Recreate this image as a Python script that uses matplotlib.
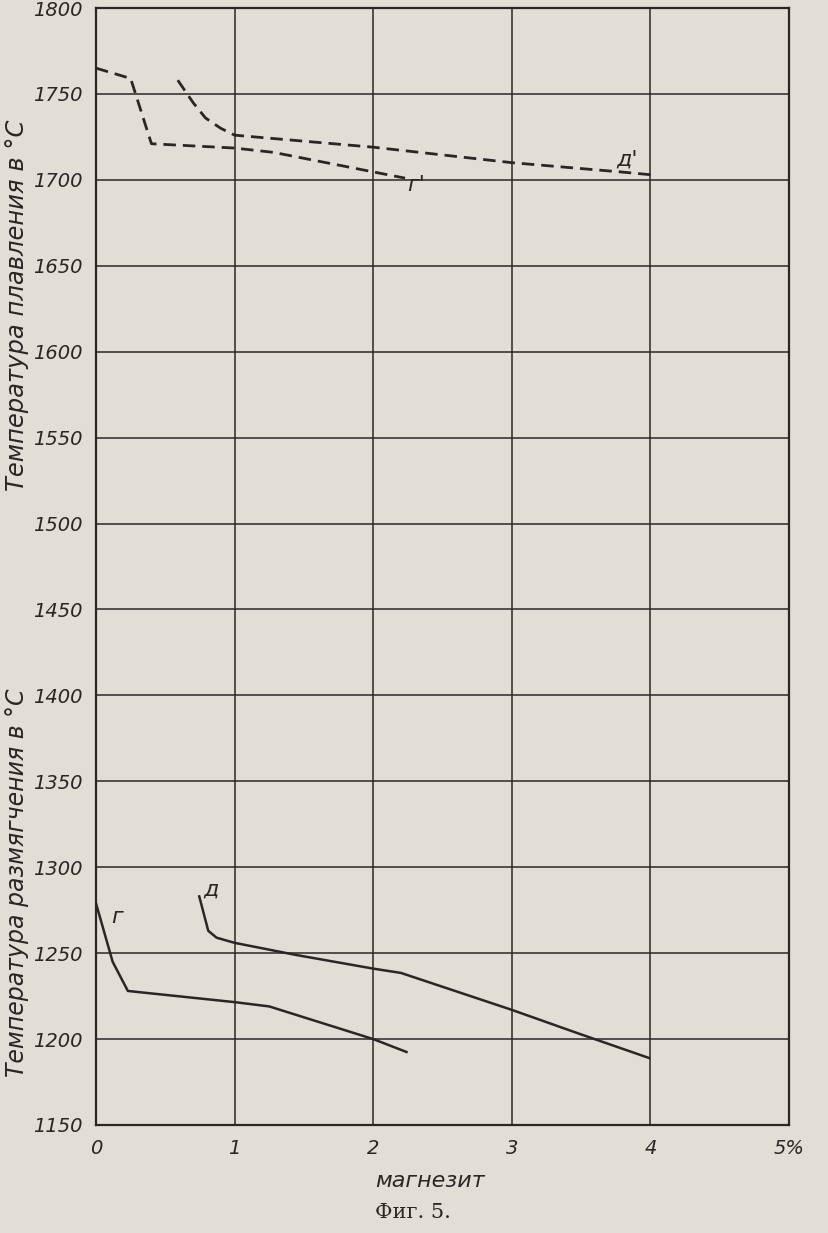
import numpy as np
import matplotlib
matplotlib.use("Agg")
import matplotlib.pyplot as plt

# values (x = % magnesite, y = deg C)
g_melt_x = [0.0, 0.25, 0.40, 1.0, 1.28, 2.23]
g_melt_y = [1765, 1759, 1721, 1718.5, 1716, 1701]

d_melt_x = [0.59, 0.70, 0.79, 0.90, 1.0, 2.0, 3.0, 3.8, 4.0]
d_melt_y = [1758, 1745, 1736, 1730, 1726, 1719, 1710, 1704.5, 1703]

g_soft_x = [0.0, 0.12, 0.23, 1.0, 1.25, 2.0, 2.24]
g_soft_y = [1279, 1245, 1228, 1221.5, 1219, 1200, 1192.5]

d_soft_x = [0.745, 0.81, 0.87, 1.0, 1.44, 2.0, 2.2, 3.0, 3.49, 3.99]
d_soft_y = [1283, 1263, 1259, 1256, 1249, 1241, 1238.5, 1217, 1203, 1189]

x_ticks = [0, 1, 2, 3, 4, 5]
x_tick_labels = ['0', '1', '2', '3', '4', '5%']
y_ticks = np.arange(1150, 1801, 50)

paper = '#e1dfd5'
ink = '#2b2626'

fig = plt.figure(figsize=(8.29, 12.33), dpi=100, facecolor=paper)
ax = fig.add_axes([96/829, 1 - 1125/1233, (789 - 96)/829, (1125 - 8)/1233])
ax.set_facecolor(paper)

ax.set_xlim(0, 5)
ax.set_ylim(1150, 1800)
ax.set_xticks(x_ticks)
ax.set_xticklabels(x_tick_labels)
ax.set_yticks(y_ticks)
ax.tick_params(length=0, labelsize=14, colors=ink, pad=10)
for lab in ax.get_xticklabels() + ax.get_yticklabels():
    lab.set_style('italic')
ax.grid(True, color=ink, linewidth=1.1)
for s in ax.spines.values():
    s.set_color(ink)
    s.set_linewidth(1.6)

# dashed: melting temperature, solid: softening temperature
ax.plot(g_melt_x, g_melt_y, color=ink, lw=2.0, ls=(0, (4.5, 2.5)))
ax.plot(d_melt_x, d_melt_y, color=ink, lw=2.0, ls=(0, (4.5, 2.5)))
ax.plot(g_soft_x, g_soft_y, color=ink, lw=1.8)
ax.plot(d_soft_x, d_soft_y, color=ink, lw=1.8)

ax.text(2.31, 1697, "г'", fontsize=16, style='italic', color=ink, ha='center', va='center')
ax.text(3.83, 1712, "д'", fontsize=16, style='italic', color=ink, ha='center', va='center')
ax.text(0.15, 1271, "г", fontsize=16, style='italic', color=ink, ha='center', va='center')
ax.text(0.83, 1287, "д", fontsize=16, style='italic', color=ink, ha='center', va='center')

fig.text(17/829, 1 - 305/1233, "Температура плавления в °С", rotation=90,
         fontsize=17.5, style='italic', color=ink, ha='center', va='center')
fig.text(17/829, 1 - 883/1233, "Температура размягчения в °С", rotation=90,
         fontsize=17, style='italic', color=ink, ha='center', va='center')
fig.text(430/829, 1 - 1181/1233, "магнезит", fontsize=16, style='italic',
         color=ink, ha='center', va='center')
fig.text(413/829, 1 - 1212/1233, "Фиг. 5.", fontsize=15, family='DejaVu Serif',
         color=ink, ha='center', va='center')

fig.savefig('out.png', dpi=100, facecolor=paper)
